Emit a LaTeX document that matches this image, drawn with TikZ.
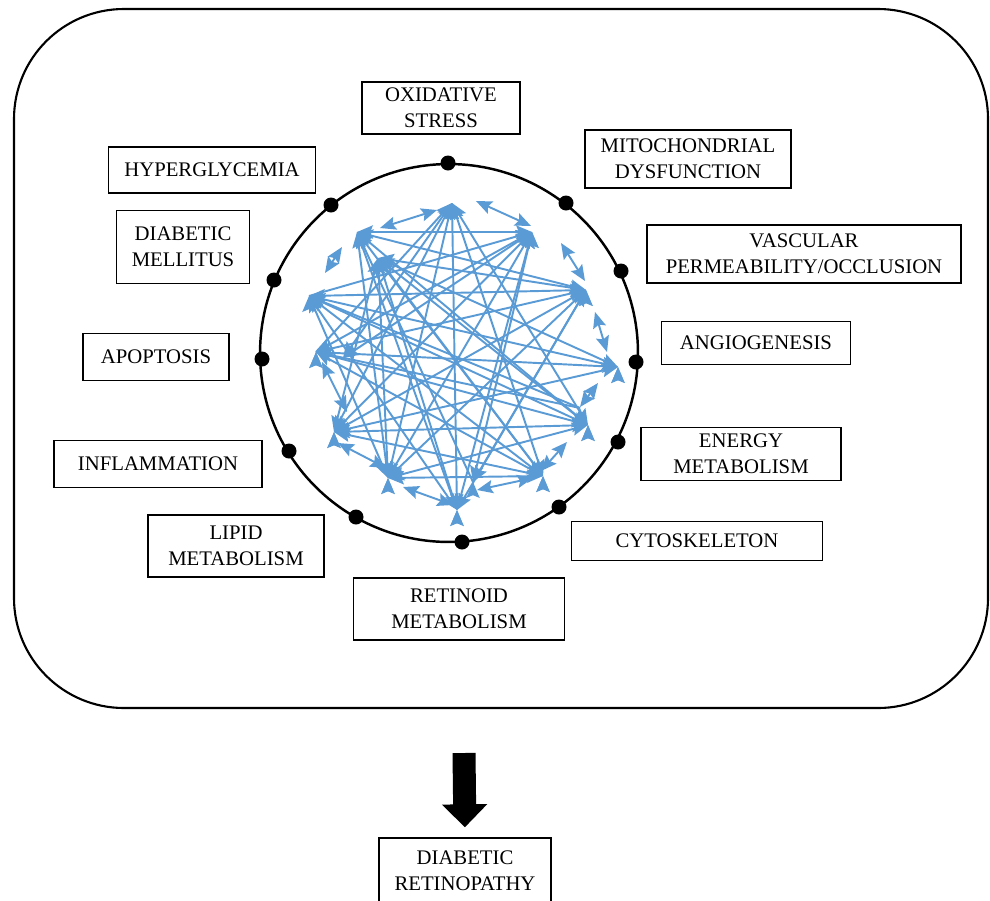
\documentclass[tikz,border=0pt]{standalone}
\usepackage{fontspec}
\setmainfont{Liberation Serif}
\usetikzlibrary{arrows.meta}
\definecolor{linkblue}{RGB}{91,155,213}

\begin{document}
\begin{tikzpicture}[x=0.02cm, y=-0.02cm,
    font=\fontsize{11.8}{14.6}\selectfont,
    labelbox/.style={draw, line width=0.8pt, align=center, inner sep=2pt},
    hub/.style={circle, fill=black, inner sep=0pt, minimum size=0.3cm},
    link/.style={color=linkblue, line width=1.1pt},
    both/.style={link, arrows={Stealth[length=9pt, width=7.5pt, inset=1.5pt]-Stealth[length=9pt, width=7.5pt, inset=1.5pt]}},
    one/.style={link, arrows={-Stealth[length=9pt, width=7.5pt, inset=1.5pt]}}]
    \useasboundingbox (0,0) rectangle (990,900);

    % Outer frame (rounded rectangle)
    \draw[line width=1.2pt, rounded corners=2.2cm] (14,9) rectangle (988,708);

    % Ring of pathways
    \coordinate (ctr) at (449,353);
    \draw[line width=1.4pt] (ctr) circle[radius=3.78cm];

    % Dots on the ring
    \node[hub] (d1) at (448,163) {};
    \node[hub] (d2) at (566,203) {};
    \node[hub] (d3) at (621,271) {};
    \node[hub] (d4) at (636,362) {};
    \node[hub] (d5) at (618,442) {};
    \node[hub] (d6) at (559,507) {};
    \node[hub] (d7) at (462,542) {};
    \node[hub] (d8) at (356,517) {};
    \node[hub] (d9) at (289,451) {};
    \node[hub] (d10) at (262,359) {};
    \node[hub] (d11) at (274,280) {};
    \node[hub] (d12) at (331,205) {};

    % Labels
    \node[labelbox, minimum width=3.16cm, minimum height=1.04cm] (oxid) at (441,108) {OXIDATIVE\\STRESS};
    \node[labelbox, minimum width=4.12cm, minimum height=1.16cm] (mito) at (688,159) {MITOCHONDRIAL\\DYSFUNCTION};
    \node[labelbox, minimum width=6.28cm, minimum height=1.16cm] (vasc) at (804,254) {VASCULAR\\PERMEABILITY/OCCLUSION};
    \node[labelbox, minimum width=3.78cm, minimum height=0.86cm] (angio) at (756,343) {ANGIOGENESIS};
    \node[labelbox, minimum width=4.0cm, minimum height=1.06cm] (energy) at (741,454) {ENERGY\\METABOLISM};
    \node[labelbox, minimum width=5.02cm, minimum height=0.78cm] (cyto) at (697,541) {CYTOSKELETON};
    \node[labelbox, minimum width=4.22cm, minimum height=1.24cm] (retin) at (459,609) {RETINOID\\METABOLISM};
    \node[labelbox, minimum width=3.52cm, minimum height=1.24cm] (lipid) at (236,546) {LIPID\\METABOLISM};
    \node[labelbox, minimum width=4.16cm, minimum height=0.94cm] (inflam) at (158,464) {INFLAMMATION};
    \node[labelbox, minimum width=2.92cm, minimum height=0.94cm] (apop) at (156,357) {APOPTOSIS};
    \node[labelbox, minimum width=2.66cm, minimum height=1.46cm] (diab) at (183,247) {DIABETIC\\MELLITUS};
    \node[labelbox, minimum width=4.14cm, minimum height=0.92cm] (hyper) at (212,170) {HYPERGLYCEMIA};
    \node[labelbox, minimum width=3.44cm, minimum height=1.32cm] (retino) at (465,871) {DIABETIC\\RETINOPATHY};

    % Network points inside the ring
    \coordinate (o1) at (452,203);
    \coordinate (o2) at (532,232);
    \coordinate (o3) at (586,290);
    \coordinate (o4) at (618,367);
    \coordinate (o5) at (588,425);
    \coordinate (o6) at (543,476);
    \coordinate (o7) at (457,510);
    \coordinate (o8) at (388,478);
    \coordinate (o9) at (334,432);
    \coordinate (o10) at (316,352);
    \coordinate (o11) at (309,296);
    \coordinate (o12) at (357,232);
    \coordinate (s1) at (378,258);
    \coordinate (s2) at (343,358);
    \coordinate (s3) at (473,482);
    \coordinate (s4) at (580,408);

    % Long interactions
    \draw[both] (o1) edge (o7) edge (o8) edge (o9) edge (o6) edge (o5) edge (s2);
    \draw[one] (o10) edge (o1);
    \draw[both] (o2) edge (o12) edge (o10) edge (o9) edge (o8) edge (o7) edge (s2) edge (s3);
    \draw[one] (o11) edge (o2);
    \draw[both] (o3) edge (o12) edge (s1) edge (o10) edge (o9) edge (o8) edge (s3) edge (o11);
    \draw[one] (o10) edge (o4) edge (o5);
    \draw[both] (o4) edge (o11) edge (s1) edge (o9);
    \draw[both] (o5) edge (o12) edge (o11) edge (o9) edge (s1) edge (o8);
    \draw[both] (o6) edge (o12) edge (s1) edge (o10) edge (o11) edge (o9) edge (o8);
    \draw[both] (o7) edge (o12) edge (s1) edge (o3) edge (o11);
    \draw[both] (o8) edge (o12) edge (s1) edge (o11);
    \draw[both] (o9) edge (s1);
    \draw[one] (s4) edge (o10) edge (o11);
    \draw[one] (s3) edge (o12);

    % Short interactions along the ring
    \coordinate (t1a) at (476,201);  \coordinate (t1b) at (531,226);
    \coordinate (t2a) at (561,243);  \coordinate (t2b) at (585,281);
    \coordinate (t3a) at (595,312);  \coordinate (t3b) at (607,352);
    \coordinate (t4a) at (598,383);  \coordinate (t4b) at (580,407);
    \coordinate (t5a) at (567,442);  \coordinate (t5b) at (541,471);
    \coordinate (t6a) at (477,490);  \coordinate (t6b) at (533,478);
    \coordinate (t7a) at (403,487);  \coordinate (t7b) at (453,505);
    \coordinate (t8a) at (338,443);  \coordinate (t8b) at (386,468);
    \coordinate (t9a) at (322,362);  \coordinate (t9b) at (347,412);
    \coordinate (t11a) at (325,273); \coordinate (t11b) at (342,247);
    \coordinate (t12a) at (380,228); \coordinate (t12b) at (437,210);
    \draw[both] (t1a) -- (t1b);
    \draw[both] (t2a) -- (t2b);
    \draw[both] (t3a) -- (t3b);
    \draw[both] (t4a) -- (t4b);
    \draw[both] (t5a) -- (t5b);
    \draw[both] (t6a) -- (t6b);
    \draw[both] (t7a) -- (t7b);
    \draw[both] (t8a) -- (t8b);
    \draw[both] (t9a) -- (t9b);
    \draw[both] (t11a) -- (t11b);
    \draw[both] (t12a) -- (t12b);

    % Outcome arrow
    \coordinate (arrowtop) at (464,753);
    \draw[line width=0.46cm, -{Triangle[length=0.46cm, width=0.88cm]}, shorten >=0.2cm] (arrowtop) -- (retino.north);
\end{tikzpicture}
\end{document}
